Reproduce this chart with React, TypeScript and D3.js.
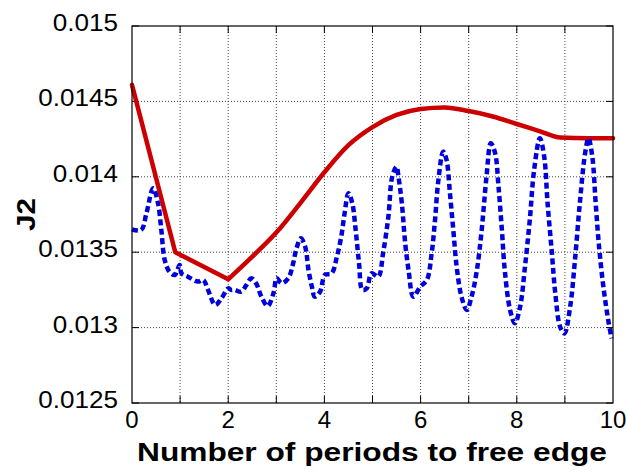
import React from "react";
import * as d3 from "d3";

const xTicks = [0, 2, 4, 6, 8, 10];
const xGrid = [1, 2, 3, 4, 5, 6, 7, 8, 9];
const yTicks = [0.0125, 0.013, 0.0135, 0.014, 0.0145, 0.015];
const yTickLabels = ["0.0125", "0.013", "0.0135", "0.014", "0.0145", "0.015"];

// red: straight segments up to the minimum at x=2, smooth afterwards
const redKinkX = [0, 0.9, 2];
const redKinkY = [0.01461, 0.0135, 0.01332];
const redSmoothX = [2, 2.5, 3, 3.5, 4, 4.5, 5, 5.5, 6, 6.5, 7, 7.5, 8, 8.5, 8.9, 9.5, 10];
const redSmoothY = [0.01332, 0.01347, 0.01363, 0.013826, 0.01403, 0.01421, 0.01433, 0.01441, 0.01445, 0.01446, 0.014436, 0.0144, 0.01435, 0.0143, 0.01426, 0.014255, 0.014255];

const blueX = [0, 0.19, 0.3, 0.44, 0.54, 0.61, 0.68, 0.78, 0.89, 0.99, 1.03, 1.16, 1.37, 1.48, 1.58, 1.73, 1.86, 2.0, 2.06, 2.13, 2.27, 2.38, 2.48, 2.58, 2.69, 2.82, 2.94, 3.01, 3.11, 3.25, 3.35, 3.42, 3.51, 3.6, 3.67, 3.74, 3.8, 3.91, 4.01, 4.15, 4.26, 4.35, 4.42, 4.5, 4.58, 4.65, 4.72, 4.79, 4.88, 4.98, 5.12, 5.22, 5.33, 5.41, 5.5, 5.54, 5.61, 5.68, 5.75, 5.85, 5.99, 6.13, 6.23, 6.3, 6.37, 6.47, 6.54, 6.61, 6.68, 6.75, 6.85, 6.96, 7.06, 7.17, 7.27, 7.37, 7.46, 7.55, 7.62, 7.69, 7.75, 7.86, 7.96, 8.07, 8.17, 8.27, 8.36, 8.48, 8.57, 8.64, 8.73, 8.8, 8.9, 8.99, 9.11, 9.21, 9.31, 9.42, 9.49, 9.57, 9.64, 9.71, 9.8, 9.9, 9.97];
const blueY = [0.013652, 0.013647, 0.013758, 0.013924, 0.013826, 0.013647, 0.013448, 0.01337, 0.013349, 0.013415, 0.01336, 0.013338, 0.013305, 0.013316, 0.01325, 0.01315, 0.013194, 0.01326, 0.01325, 0.01325, 0.013238, 0.013283, 0.013327, 0.013294, 0.013205, 0.013143, 0.013227, 0.013327, 0.013294, 0.013327, 0.013426, 0.013526, 0.013592, 0.013537, 0.01338, 0.013271, 0.013205, 0.013238, 0.013349, 0.01336, 0.01347, 0.013603, 0.013758, 0.013891, 0.013824, 0.013647, 0.013426, 0.01325, 0.01326, 0.01336, 0.013338, 0.013493, 0.013735, 0.014, 0.014067, 0.014, 0.013824, 0.013559, 0.01338, 0.013205, 0.013271, 0.013316, 0.013493, 0.013714, 0.013979, 0.014167, 0.014111, 0.013891, 0.013647, 0.013404, 0.013205, 0.013117, 0.013205, 0.01338, 0.013647, 0.014, 0.014222, 0.014156, 0.013934, 0.013647, 0.01338, 0.013117, 0.013029, 0.01314, 0.013404, 0.013714, 0.014045, 0.014255, 0.014133, 0.013824, 0.013493, 0.013227, 0.013006, 0.012962, 0.01314, 0.01345, 0.013824, 0.014156, 0.014255, 0.014133, 0.013824, 0.013537, 0.013271, 0.013051, 0.012929];

const W = 626;
const H = 472;
const L = 132, R = 613, T = 26, B = 403;
const FONT = "'Liberation Sans', Arial, Helvetica, sans-serif";

export default function App() {
  const x = d3.scaleLinear().domain([0, 10]).range([L, R]);
  const y = d3.scaleLinear().domain([0.0125, 0.015]).range([B, T]);

  const kinkPts: [number, number][] = redKinkX.map((v, i) => [v, redKinkY[i]]);
  const smoothPts: [number, number][] = redSmoothX.map((v, i) => [v, redSmoothY[i]]);
  const bluePts: [number, number][] = blueX.map((v, i) => [v, blueY[i]]);

  const linLine = d3.line<[number, number]>().x(d => x(d[0])).y(d => y(d[1])).curve(d3.curveLinear);
  const smLine = d3.line<[number, number]>().x(d => x(d[0])).y(d => y(d[1])).curve(d3.curveMonotoneX);
  const blueLine = d3.line<[number, number]>().x(d => x(d[0])).y(d => y(d[1])).curve(d3.curveCatmullRom.alpha(0.5));

  const tickLen = 7;
  const labelW = (s: string) => {
    let w = 0;
    for (const c of s) w += c === "." ? 0.278 : 0.556;
    return w * 24 * 1.085;
  };

  return (
    <svg width={W} height={H} style={{ position: "absolute", left: 0, top: 0, background: "#fff" }} fontFamily={FONT}>
      <rect x={0} y={0} width={W} height={H} fill="#fff" />
      {xGrid.map(g => (
        <line key={"vx" + g} x1={x(g)} x2={x(g)} y1={T} y2={B} stroke="#444" strokeWidth={1} strokeDasharray="1,2" />
      ))}
      {yTicks.slice(1, -1).map(g => (
        <line key={"hy" + g} x1={L} x2={R} y1={y(g)} y2={y(g)} stroke="#444" strokeWidth={1} strokeDasharray="1,2" />
      ))}
      {xGrid.map(g => (
        <g key={"tx" + g}>
          <line x1={x(g)} x2={x(g)} y1={B} y2={B - tickLen} stroke="#000" />
          <line x1={x(g)} x2={x(g)} y1={T} y2={T + tickLen} stroke="#000" />
        </g>
      ))}
      {yTicks.map(g => (
        <g key={"ty" + g}>
          <line x1={L} x2={L + tickLen} y1={y(g)} y2={y(g)} stroke="#000" />
          <line x1={R} x2={R - tickLen} y1={y(g)} y2={y(g)} stroke="#000" />
        </g>
      ))}
      <path d={(linLine(kinkPts) || "") + (smLine(smoothPts) || "")} fill="none" stroke="#cc0000" strokeWidth={4.5} strokeLinejoin="round" strokeLinecap="round" />
      <path d={blueLine(bluePts) || ""} fill="none" stroke="#0000dd" strokeWidth={4.5} strokeDasharray="6,3.5" />
      <rect x={L} y={T} width={R - L} height={B - T} fill="none" stroke="#000" strokeWidth={1.2} />
      {xTicks.map(t => (
        <text key={"lx" + t} x={x(t)} y={428} textAnchor="middle" fontSize={24} fill="#000">{t}</text>
      ))}
      {yTicks.map((t, i) => (
        <text key={"ly" + t} x={118} y={y(t) + 5} textAnchor="end" fontSize={24} fill="#000"
          textLength={labelW(yTickLabels[i])} lengthAdjust="spacingAndGlyphs">{yTickLabels[i]}</text>
      ))}
      <text x={137} y={461} fontSize={26} fontWeight="bold" fill="#000" textLength={470} lengthAdjust="spacingAndGlyphs">
        Number of periods to free edge
      </text>
      <text transform={`translate(35,${(T + B) / 2}) rotate(-90)`} textAnchor="middle" fontSize={26} fontWeight="bold" fill="#000"
        textLength={33} lengthAdjust="spacingAndGlyphs">
        J2
      </text>
    </svg>
  );
}
